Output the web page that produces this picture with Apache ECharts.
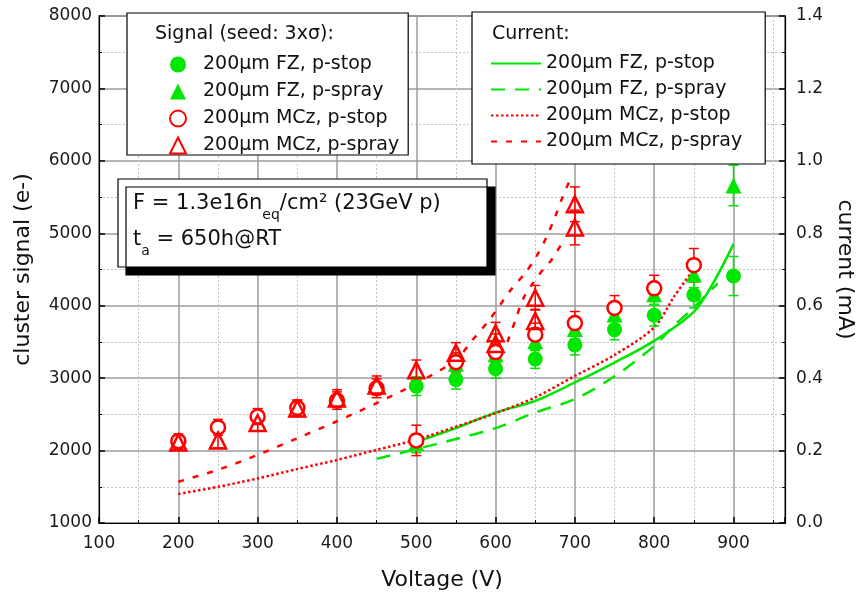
<!DOCTYPE html>
<html lang="en">
<head>
    <meta charset="UTF-8">
    <title>cluster signal vs voltage</title>
    <script src="https://cdn.jsdelivr.net/npm/echarts@6/dist/echarts.min.js"></script>
    <style>
        html, body { margin: 0; padding: 0; background: #fff; }
        #chart { width: 864px; height: 599px; }
    </style>
</head>
<body>
<div id="chart"></div>
<script>
    // signal points (left axis, e-)
    var fzStopV = [500, 550, 600, 650, 700, 750, 800, 850, 900];
    var fzStopSig = [2890, 2980, 3130, 3265, 3460, 3670, 3870, 4150, 4410];
    var fzStopErr = [130, 130, 130, 130, 140, 140, 150, 180, 270];

    var fzSprayV = [500, 550, 600, 650, 700, 750, 800, 850, 900];
    var fzSpraySig = [2100, 3200, 3330, 3510, 3680, 3880, 4160, 4430, 5660];
    var fzSprayErr = [130, 130, 130, 130, 140, 140, 150, 180, 280];

    var mczStopV = [200, 250, 300, 350, 400, 450, 500, 550, 600, 650, 700, 750, 800, 850];
    var mczStopSig = [2130, 2320, 2470, 2590, 2690, 2860, 2140, 3220, 3360, 3600, 3760, 3970, 4240, 4560];
    var mczStopErr = [100, 110, 110, 110, 120, 130, 210, 130, 140, 160, 160, 170, 180, 230];

    var mczSprayV = [200, 250, 300, 350, 400, 450, 500, 550, 600, 600, 650, 650, 700, 700];
    var mczSpraySig = [2110, 2140, 2380, 2580, 2720, 2900, 3110, 3350, 3620, 3470, 4110, 3790, 5400, 5080];
    var mczSprayErr = [90, 100, 110, 110, 120, 130, 140, 140, 150, 140, 170, 160, 240, 240];

    // currents (right axis, mA)
    var iFzStopV = [500, 550, 600, 650, 700, 750, 800, 850, 875, 900];
    var iFzStop = [0.224, 0.262, 0.305, 0.337, 0.388, 0.443, 0.503, 0.583, 0.665, 0.770];

    var iFzSprayV = [450, 500, 550, 600, 650, 700, 750, 800, 825, 850, 880];
    var iFzSpray = [0.177, 0.204, 0.232, 0.262, 0.305, 0.342, 0.405, 0.489, 0.545, 0.595, 0.662];

    var iMczStopV = [200, 250, 300, 350, 400, 450, 500, 550, 600, 650, 700, 750, 800, 825, 848];
    var iMczStop = [0.080, 0.100, 0.123, 0.149, 0.174, 0.202, 0.230, 0.266, 0.303, 0.347, 0.406, 0.464, 0.540, 0.625, 0.695];

    var iMczSprayV = [200, 250, 300, 350, 400, 450, 500, 550, 570, 590, 605, 620, 638, 652, 665, 675, 685, 696];
    var iMczSpray = [0.114, 0.147, 0.188, 0.234, 0.281, 0.331, 0.385, 0.450, 0.503, 0.555, 0.600, 0.646, 0.692, 0.738, 0.793, 0.845, 0.903, 0.958];

    var iMczSpray2V = [615, 625, 635, 648, 660, 670, 683];
    var iMczSpray2 = [0.500, 0.560, 0.620, 0.665, 0.700, 0.725, 0.770];

    var green = '#00e600';
    var red = '#ff0000';
    var font = 'DejaVu Sans';
    var names = ['200\u03bcm FZ, p-stop', '200\u03bcm FZ, p-spray', '200\u03bcm MCz, p-stop', '200\u03bcm MCz, p-spray'];
    var iNames = names.map(function (n) { return 'I ' + n; });

    function zip(a, b, c) {
        return a.map(function (v, i) { return c ? [v, b[i], c[i]] : [v, b[i]]; });
    }

    function errBars(vs, ys, es, color) {
        return {
            type: 'custom',
            silent: true,
            z: 3,
            data: zip(vs, ys, es),
            renderItem: function (params, api) {
                var x = api.value(0), y = api.value(1), e = api.value(2);
                var t = api.coord([x, y + e]);
                var b = api.coord([x, y - e]);
                var w = 5;
                var st = { stroke: color, lineWidth: 1.5 };
                return {
                    type: 'group',
                    children: [
                        { type: 'line', shape: { x1: t[0], y1: t[1], x2: b[0], y2: b[1] }, style: st },
                        { type: 'line', shape: { x1: t[0] - w, y1: t[1], x2: t[0] + w, y2: t[1] }, style: st },
                        { type: 'line', shape: { x1: b[0] - w, y1: b[1], x2: b[0] + w, y2: b[1] }, style: st }
                    ]
                };
            }
        };
    }

    function curve(name, vs, ys, color, dash) {
        return {
            name: name,
            type: 'line',
            yAxisIndex: 1,
            data: zip(vs, ys),
            smooth: 0.3,
            symbol: 'none',
            z: 2,
            lineStyle: { color: color, width: 2.5, type: dash },
            itemStyle: { color: color }
        };
    }

    var chart = echarts.init(document.getElementById('chart'));
    var tickFont = { fontFamily: font, fontSize: 17, color: '#1a1a1a' };
    var option = {
        animation: false,
        grid: {
            left: 99, right: 72, top: 16, bottom: 76,
            show: true, borderColor: '#000', borderWidth: 1.2, backgroundColor: 'transparent'
        },
        xAxis: {
            type: 'value', min: 100, max: 965, interval: 100,
            name: 'Voltage (V)', nameLocation: 'middle', nameGap: 46,
            nameTextStyle: { fontFamily: font, fontSize: 22, color: '#111' },
            axisLine: { lineStyle: { color: '#000', width: 1.2 } },
            axisTick: { inside: true, length: 6, lineStyle: { color: '#000', width: 1.5 } },
            minorTick: { show: true, splitNumber: 2, length: 3, lineStyle: { color: '#000' } },
            axisLabel: Object.assign({ margin: 12, formatter: function (v) { return v % 100 === 0 ? String(v) : ''; } }, tickFont),
            splitLine: { show: true, lineStyle: { color: '#9c9c9c', width: 1.5 } },
            minorSplitLine: { show: true, lineStyle: { color: '#c4c4c4', type: [2, 2], width: 1 } }
        },
        yAxis: [{
            type: 'value', min: 1000, max: 8000, interval: 1000,
            name: 'cluster signal (e-)', nameLocation: 'middle', nameGap: 65, nameRotate: 90,
            nameTextStyle: { fontFamily: font, fontSize: 22, color: '#111' },
            axisLine: { show: true, lineStyle: { color: '#000', width: 1.2 } },
            axisTick: { inside: true, length: 6, lineStyle: { color: '#000', width: 1.5 } },
            minorTick: { show: true, splitNumber: 2, length: 3, lineStyle: { color: '#000' } },
            axisLabel: Object.assign({ margin: 7, formatter: function (v) { return String(v); } }, tickFont),
            splitLine: { show: true, lineStyle: { color: '#9c9c9c', width: 1.5 } },
            minorSplitLine: { show: true, lineStyle: { color: '#c4c4c4', type: [2, 2], width: 1 } }
        }, {
            type: 'value', min: 0, max: 1.4, interval: 0.2, position: 'right',
            name: 'current (mA)', nameLocation: 'middle', nameGap: 40, nameRotate: -90,
            nameTextStyle: { fontFamily: font, fontSize: 22, color: '#111' },
            axisLine: { show: true, lineStyle: { color: '#000', width: 1.2 } },
            axisTick: { inside: true, length: 6, lineStyle: { color: '#000', width: 1.5 } },
            minorTick: { show: true, splitNumber: 2, length: 3, lineStyle: { color: '#000' } },
            axisLabel: Object.assign({ margin: 11, formatter: function (v) { return v.toFixed(1); } }, tickFont),
            splitLine: { show: false }
        }],
        legend: [{
            orient: 'vertical', left: 127, top: 13,
            padding: [42, 9, 0, 42],
            itemWidth: 16, itemHeight: 16, itemGap: 8,
            backgroundColor: '#fff', borderColor: '#000', borderWidth: 1.2,
            textStyle: { fontFamily: font, fontSize: 19, color: '#111', padding: [0, 0, 0, 12] },
            data: names
        }, {
            orient: 'vertical', left: 472, top: 12,
            padding: [42, 23, 13, 18],
            itemWidth: 50, itemHeight: 14, itemGap: 7,
            backgroundColor: '#fff', borderColor: '#000', borderWidth: 1.2,
            itemStyle: { color: 'transparent', borderColor: 'transparent', borderWidth: 0 },
            textStyle: { fontFamily: font, fontSize: 19, color: '#111' },
            formatter: function (n) { return n.replace(/^I /, ''); },
            data: iNames
        }],
        graphic: [
            { type: 'text', left: 155, top: 25, z: 100,
              style: { text: 'Signal (seed: 3x\u03c3):', font: '19px "DejaVu Sans"', fill: '#111' } },
            { type: 'text', left: 492, top: 25, z: 100,
              style: { text: 'Current:', font: '19px "DejaVu Sans"', fill: '#111' } },
            { type: 'rect', z: 100, shape: { x: 118, y: 179, width: 369, height: 88 },
              style: { fill: '#fff', stroke: '#000', lineWidth: 1.2, shadowColor: '#000', shadowOffsetX: 8, shadowOffsetY: 8, shadowBlur: 0 } },
            { type: 'text', x: 133, y: 186, z: 101,
              style: {
                  text: '{n|F = 1.3e16n}{s|eq}{n|/cm\u00b2 (23GeV p)}\n{n|t}{s|a}{n| = 650h@RT}',
                  rich: {
                      n: { fontFamily: font, fontSize: 21, lineHeight: 36, verticalAlign: 'middle', fill: '#111', color: '#111' },
                      s: { fontFamily: font, fontSize: 14, lineHeight: 14, verticalAlign: 'bottom', fill: '#111', color: '#111' }
                  }
              } }
        ],
        series: [
            errBars(fzStopV, fzStopSig, fzStopErr, green),
            errBars(fzSprayV, fzSpraySig, fzSprayErr, green),
            errBars(mczStopV, mczStopSig, mczStopErr, red),
            errBars(mczSprayV, mczSpraySig, mczSprayErr, red),
            curve(iNames[0], iFzStopV, iFzStop, green, 'solid'),
            curve(iNames[1], iFzSprayV, iFzSpray, green, [14, 10]),
            curve(iNames[2], iMczStopV, iMczStop, red, [2.5, 2.5]),
            curve(iNames[3], iMczSprayV, iMczSpray, red, [6, 9]),
            curve(iNames[3], iMczSpray2V, iMczSpray2, red, [6, 9]),
            { name: names[0], type: 'scatter', z: 5, symbol: 'circle', symbolSize: 15,
              itemStyle: { color: green, opacity: 1 }, data: zip(fzStopV, fzStopSig) },
            { name: names[1], type: 'scatter', z: 4, symbol: 'triangle', symbolSize: 16,
              itemStyle: { color: green, opacity: 1 }, data: zip(fzSprayV, fzSpraySig) },
            { name: names[2], type: 'scatter', z: 6, symbol: 'circle', symbolSize: 14,
              itemStyle: { color: '#fff', borderColor: red, borderWidth: 2.5, opacity: 1 }, data: zip(mczStopV, mczStopSig) },
            { name: names[3], type: 'scatter', z: 6, symbol: 'triangle', symbolSize: 16,
              itemStyle: { color: 'rgba(255,255,255,0)', borderColor: red, borderWidth: 2.5, opacity: 1 }, data: zip(mczSprayV, mczSpraySig) }
        ]
    };
    chart.setOption(option);
</script>
</body>
</html>
